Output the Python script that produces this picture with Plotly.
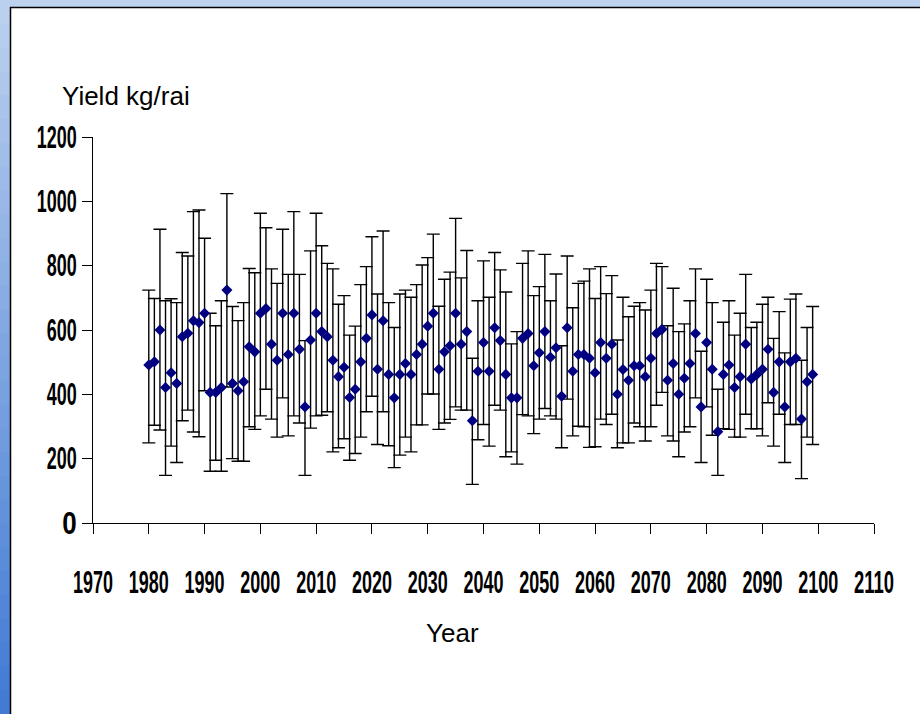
import plotly.graph_objects as go

years = list(range(1980, 2100))

yield_mean = [
    491, 501, 600, 421, 467, 434, 579, 590, 629, 623,
    652, 406, 406, 421, 724, 434, 411, 439, 548, 532,
    652, 667, 556, 506, 652, 524, 652, 540, 361, 569,
    652, 595, 579, 506, 455, 484, 390, 416, 501, 574,
    647, 478, 629, 462, 389, 462, 496, 462, 524, 556,
    612, 652, 478, 532, 551, 652, 556, 595, 318, 472,
    561, 472, 607, 567, 462, 389, 389, 574, 589, 489,
    529, 595, 515, 545, 394, 607, 472, 524, 524, 512,
    467, 561, 512, 556, 400, 477, 444, 489, 489, 455,
    512, 589, 602, 444, 496, 400, 450, 496, 589, 361,
    561, 478, 284, 462, 491, 421, 455, 556, 448, 462,
    478, 540, 406, 501, 361, 501, 512, 323, 439, 462,
]

yield_max = [
    724, 698, 913, 691, 697, 685, 841, 830, 968, 973,
    885, 652, 613, 691, 1024, 673, 629, 685, 791, 778,
    963, 918, 790, 745, 913, 773, 968, 773, 567, 846,
    963, 862, 807, 790, 680, 707, 584, 612, 741, 797,
    890, 712, 908, 685, 608, 712, 724, 702, 741, 802,
    825, 898, 674, 758, 780, 947, 762, 847, 512, 691,
    815, 702, 841, 787, 718, 557, 595, 807, 846, 707,
    735, 835, 691, 774, 551, 830, 669, 745, 752, 790,
    698, 797, 713, 769, 569, 702, 641, 674, 685, 662,
    724, 807, 797, 613, 730, 595, 619, 691, 790, 534,
    758, 685, 416, 624, 691, 584, 652, 773, 608, 624,
    680, 702, 574, 657, 529, 696, 712, 506, 608, 673,
]

yield_min = [
    249, 304, 289, 148, 239, 188, 318, 351, 283, 268,
    411, 161, 195, 161, 423, 200, 192, 192, 299, 291,
    333, 416, 323, 267, 389, 271, 333, 311, 148, 295,
    333, 335, 346, 221, 234, 262, 195, 216, 267, 346,
    394, 244, 346, 240, 172, 211, 267, 221, 305, 305,
    401, 401, 291, 311, 322, 361, 351, 351, 120, 259,
    306, 239, 366, 351, 206, 221, 183, 337, 333, 278,
    323, 356, 333, 323, 234, 385, 271, 301, 299, 235,
    237, 323, 306, 338, 234, 249, 249, 311, 299, 255,
    299, 366, 406, 271, 255, 206, 283, 299, 389, 188,
    361, 273, 148, 293, 291, 267, 267, 338, 293, 293,
    271, 374, 239, 338, 188, 306, 306, 138, 267, 244,
]

x_ticks = list(range(1970, 2111, 10))
y_ticks = list(range(0, 1201, 200))

err_plus = [u - m for u, m in zip(yield_max, yield_mean)]
err_minus = [m - l for m, l in zip(yield_mean, yield_min)]

W, H = 920, 714
L, R, T, B = 93, 46, 137, 191
PW, PH = W - L - R, H - T - B


def px(xp):
    return (xp - L) / PW


def py(yp):
    return (H - B - yp) / PH


fig = go.Figure()
fig.add_trace(go.Scatter(
    x=years, y=yield_mean, mode="markers",
    marker=dict(symbol="diamond", size=8.5, color="#000080", line=dict(width=0)),
    error_y=dict(type="data", symmetric=False, array=err_plus, arrayminus=err_minus,
                 color="black", thickness=1.4, width=6.5),
    showlegend=False, hoverinfo="x+y",
))

tick_font = dict(family="Liberation Sans, Arial", size=26, color="black", weight="bold")

shapes = []
# blue gradient window frame
n = 30
c0 = (186, 208, 238)
c1 = (66, 122, 212)
for i in range(n):
    t = i / (n - 1)
    c = tuple(int(round(c0[k] + (c1[k] - c0[k]) * t)) for k in range(3))
    y_top = H * i / n
    y_bot = H * (i + 1) / n + 1
    shapes.append(dict(type="rect", xref="paper", yref="paper",
                       x0=px(0), x1=px(10), y0=py(y_bot), y1=py(y_top),
                       fillcolor="rgb(%d,%d,%d)" % c, line=dict(width=0), layer="below"))
shapes.append(dict(type="rect", xref="paper", yref="paper",
                   x0=px(10), x1=px(W), y0=py(7), y1=py(0),
                   fillcolor="rgb(188,210,238)", line=dict(width=0), layer="below"))
shapes.append(dict(type="line", xref="paper", yref="paper",
                   x0=px(10.5), x1=px(10.5), y0=py(H), y1=py(7),
                   line=dict(color="black", width=1.5)))
shapes.append(dict(type="line", xref="paper", yref="paper",
                   x0=px(10), x1=px(W), y0=py(7.5), y1=py(7.5),
                   line=dict(color="black", width=1.5)))

fig.update_layout(
    width=W, height=H,
    margin=dict(l=L, r=R, t=T, b=B, pad=0, autoexpand=False),
    paper_bgcolor="white", plot_bgcolor="white",
    shapes=shapes,
    xaxis=dict(range=[1970, 2110], tickmode="array", tickvals=x_ticks,
               ticktext=[str(v) for v in x_ticks], tickangle=0, automargin=False,
               showgrid=False, zeroline=False, showline=True, linecolor="black", linewidth=1,
               ticks="outside", ticklen=10, tickcolor="black", tickwidth=1,
               tickfont=tick_font, ticklabelstandoff=26),
    yaxis=dict(range=[0, 1200], tickmode="array", tickvals=y_ticks,
               ticktext=[str(v) for v in y_ticks], tickangle=0, automargin=False,
               showgrid=False, zeroline=False, showline=True, linecolor="black", linewidth=1,
               ticks="outside", ticklen=10, tickcolor="black", tickwidth=1,
               tickfont=tick_font, ticklabelstandoff=0),
    annotations=[
        dict(text="Yield kg/rai", xref="paper", yref="paper", x=px(60), y=py(96),
             xanchor="left", yanchor="middle", showarrow=False,
             font=dict(family="Liberation Sans, Arial", size=26, color="black")),
        dict(text="Year", xref="paper", yref="paper", x=px(452), y=py(633),
             xanchor="center", yanchor="middle", showarrow=False,
             font=dict(family="Liberation Sans, Arial", size=26, color="black")),
    ],
)

post = """
document.body.style.margin = '0px';
var gd = document.getElementById('{plot_id}');
var narrowTicks = function() {
  var groups = [['.xtick text', 'middle'], ['.ytick text', 'end']];
  groups.forEach(function(g) {
    gd.querySelectorAll(g[0]).forEach(function(t) {
      var base = t.getAttribute('transform') || '';
      if (base.indexOf('scale') >= 0) { return; }
      var bb = t.getBBox();
      var s = t.textContent;
      var sx = s.length > 1 ? (10 * s.length) / bb.width : 1;
      var sy = 1.18;
      var cx = g[1] === 'end' ? bb.x + bb.width : bb.x + bb.width / 2;
      var cy = bb.y + bb.height / 2;
      t.setAttribute('transform', base + ' translate(' + cx + ',' + cy + ') scale(' + sx + ',' + sy + ') translate(' + (-cx) + ',' + (-cy) + ')');
    });
  });
};
narrowTicks();
if (gd.on) { gd.on('plotly_afterplot', narrowTicks); }
"""

fig.write_html("out.html", post_script=post, config={"displayModeBar": False})
